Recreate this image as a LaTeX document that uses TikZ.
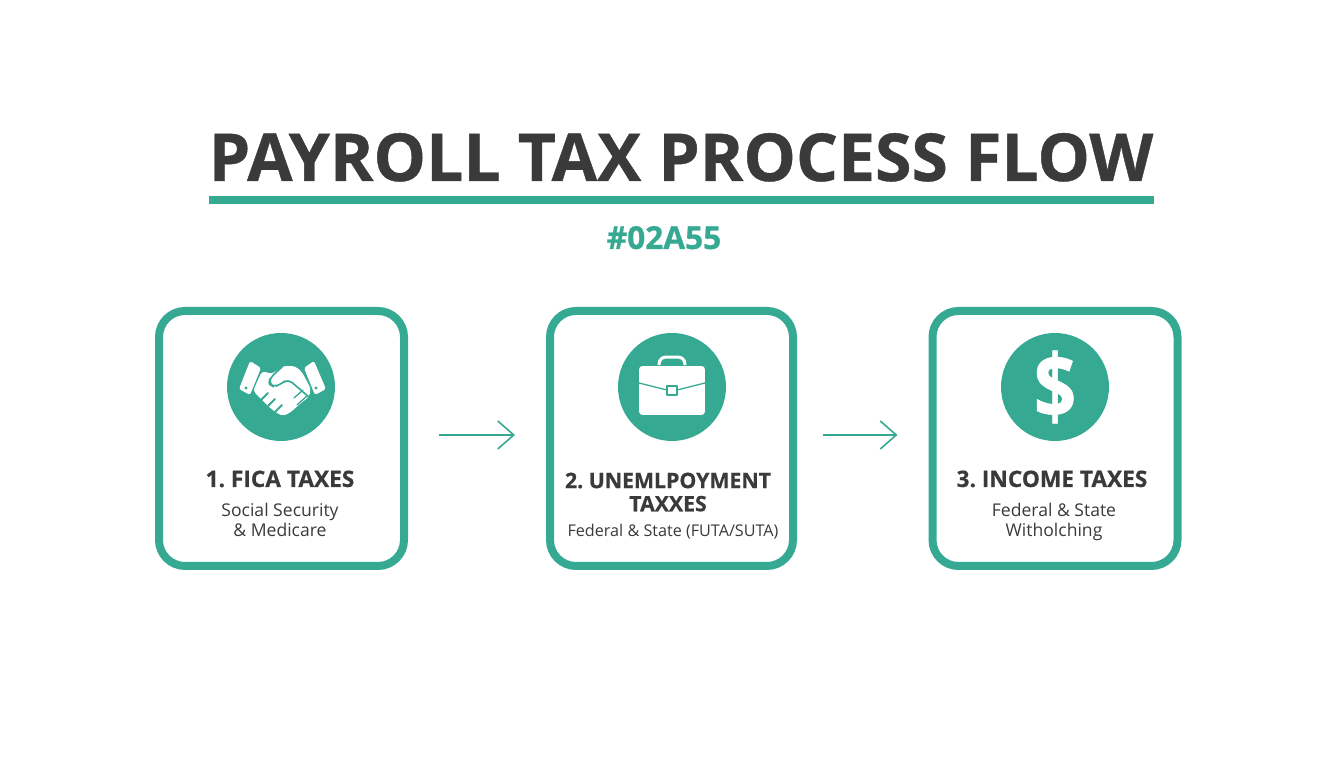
\documentclass[tikz,border=0pt]{standalone}
\usepackage{fontspec}
\setmainfont{Open Sans}[BoldFeatures={FakeBold=0.6}]
\usepackage{tikz}
\usetikzlibrary{calc,positioning,arrows.meta}
\definecolor{flowteal}{HTML}{35A992}
\definecolor{inkgrey}{HTML}{3A3A3A}
\frenchspacing
\tikzset{
  stepbox/.style={rectangle,rounded corners=.26cm,draw=flowteal,line width=.08cm,fill=white,minimum width=2.45cm,minimum height=2.55cm},
  stepicon/.style={circle,fill=flowteal,minimum size=1.08cm,inner sep=0pt},
  stephead/.style={align=center,text=inkgrey,inner sep=0pt,font=\fontsize{6.45}{6.6}\selectfont\bfseries},
  stepsub/.style={align=center,text=inkgrey,inner sep=0pt,font=\fontsize{5}{5.7}\selectfont},
  flowarrow/.style={flowteal,line width=.016cm,-{Straight Barb[length=.16cm,width=.28cm]}},
  iconcut/.style={draw=flowteal,line width=.013cm,line cap=round,line join=round}
}

\begin{document}
\begin{tikzpicture}
\useasboundingbox (0,0) rectangle (13.44,7.68);
\fill[white] (0,0) rectangle (13.44,7.68);

\node (title) [anchor=base,text=inkgrey,inner sep=0pt,font=\fontsize{18.8}{22}\selectfont\bfseries] at (6.81,5.87) {PAYROLL TAX PROCESS FLOW};
\node (rule) [fill=flowteal,inner sep=0pt,minimum width=9.45cm,minimum height=.08cm] at (6.815,5.68) {};
\node (code) [anchor=base,text=flowteal,inner sep=0pt,font=\fontsize{9}{10}\selectfont\bfseries] at (6.64,5.19) {\#02A55};

\node (box1) [stepbox] at (2.815,3.295) {};
\node (box2) [stepbox,minimum width=2.43cm] at (6.715,3.295) {};
\node (box3) [stepbox] at (10.55,3.295) {};

\node (circ1) [stepicon] at (2.81,3.81) {};
\node (circ2) [stepicon] at (6.72,3.81) {};
\node (circ3) [stepicon] at (10.55,3.81) {};

% handshake
\begin{scope}[shift={(circ1.center)},x=.01cm,y=-.01cm]
\fill[white,rounded corners=.5pt] (-31,-26) -- (-20,-19) -- (-31,8) -- (-42,2) -- cycle;
\fill[white,rounded corners=.5pt] (23,-19) -- (33,-26) -- (45,2) -- (34,8) -- cycle;
\fill[flowteal] (-35,1) circle (1.6);
\fill[flowteal] (35,1) circle (1.6);
\fill[white,rounded corners=1pt] (-19,-16) -- (-9,-13) -- (2,-21) -- (14,-21) -- (21,-15) -- (30,2) -- (28,10) -- (20,16) -- (10,25) -- (3,29) -- (-3,27) -- (-12,20) -- (-28,4) -- cycle;
\draw[iconcut,line width=.016cm,rounded corners=1.5pt] (1,-20) -- (-11,-9) -- (-12,-3) -- (-7,0) -- (0,-3) -- (7,-8) -- (29,11);
\draw[iconcut] (22,3) -- (13,11);
\draw[iconcut] (26,9) -- (16,18);
\draw[iconcut,line width=.02cm] (-20,13) -- (-13,6);
\draw[iconcut,line width=.02cm] (-13,19) -- (-6,12);
\draw[iconcut,line width=.02cm] (-6,25) -- (1,18);
\end{scope}

% briefcase
\begin{scope}[shift={(circ2.center)},x=.01cm,y=-.01cm]
\fill[white,rounded corners=1pt] (-33,-21) rectangle (33,28);
\draw[white,line width=.03cm,rounded corners=2pt] (-13,-22) -- (-13,-30) -- (13,-30) -- (13,-22);
\draw[iconcut,line cap=butt] (-33,-4) -- (-5,3);
\draw[iconcut,line cap=butt] (5,3) -- (33,-4);
\draw[iconcut,fill=white] (-5,-1) rectangle (5,8);
\end{scope}

% dollar
\node (dollar) [text=white,inner sep=0pt,xscale=.92,yscale=1.1,transform shape,font=\fontsize{23}{26}\selectfont\bfseries] at (circ3) {\$};

\node (head1) [stephead,anchor=base] at (2.80,2.81) {1. FICA TAXES};
\node (sub1) [stepsub,anchor=north] at (2.80,2.66) {Social Security\\\& Medicare};

\node (head2) [stephead,anchor=north,font=\fontsize{6.05}{6.6}\selectfont\bfseries] at (6.68,2.96) {2. UNEMLPOYMENT\\TAXXES};
\node (sub2) [stepsub,anchor=base,font=\fontsize{4.6}{5.7}\selectfont] at (6.73,2.31) {Federal \& State (FUTA/SUTA)};

\node (head3) [stephead,anchor=base] at (10.52,2.81) {3. INCOME TAXES};
\node (sub3) [stepsub,anchor=north] at (10.54,2.66) {Federal \& State\\Witholching};

\draw[flowarrow,shorten <=.31cm,shorten >=.31cm] ([yshift=.035cm]box1.east) -- ([yshift=.035cm]box2.west);
\draw[flowarrow,shorten <=.26cm,shorten >=.31cm] ([yshift=.035cm]box2.east) -- ([yshift=.035cm]box3.west);
\end{tikzpicture}
\end{document}
